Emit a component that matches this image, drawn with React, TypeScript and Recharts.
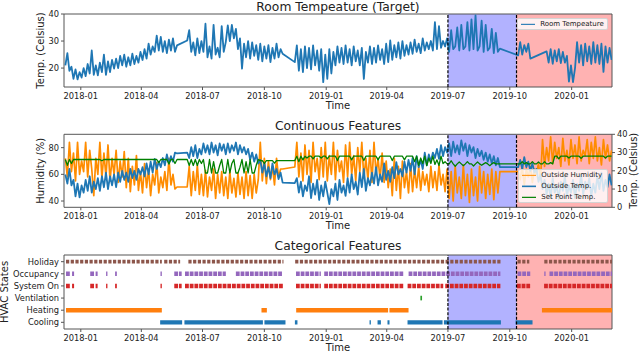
import { LineChart, Line, XAxis, YAxis, ReferenceArea, ReferenceLine } from 'recharts';

const FONT = '"DejaVu Sans", Verdana, sans-serif';
const INK = '#222';
const SPINE = '#555';

// time axis, in days since 2018-01-01
const tickDays = [0, 90, 181, 273, 365, 455, 546, 638, 730];
const tickLabels = ['2018-01', '2018-04', '2018-07', '2018-10', '2019-01', '2019-04', '2019-07', '2019-10', '2020-01'];
const dayDomain = [-25, 790];
const validStart = 546; // 2019-07-01
const testStart = 648; // 2019-10-10

// readings sampled every ~3 days (null = no data, line bridges the gap)
const sampleStart = -23;
const sampleStep = 3.02;

const roomTemp = [
  21, 25.5, 19, 20.5, 16, 19.5, 15.8, 18.5, 16.5, 20,
  17, 21.5, 18, 26.5, 17.5, 21, 17.3, 22, 18.5, 25,
  17.5, 22.5, 18.5, 23, 19.8, 23.5, 20, 24.5, 21, 25,
  20.5, 24, 21, 25.3, 21.5, 24.5, 22, 26, 23, 27,
  23.5, 29, 25, 28, 26, 32, 26.5, 31.5, 26, 30,
  25.5, 30.5, 26.5, 31, 26, 28.4, null, null, null, null,
  30.2, 34, 26, 29.5, 24.7, 31, 25.5, 30, 26, 36.4,
  24, 28, 23.5, 36, 25, 27.5, 24, 35.5, 26, 29.6,
  35.8, 30, 36, 31, 34.5, 27, 31, 19.8, 29, 24,
  30, 23.5, 29.5, 24.5, 28.5, 23, 29, 22.5, 28, 23.5,
  28.5, 22.2, 27.5, 23.5, 29, 24, 27, 25.3, null, null,
  null, null, null, 22.2, 28.4, 19, 27, 18.5, 28, 20,
  27.5, 19.5, 28.4, 21, 26.5, 19, 27, 14.8, 25, 16,
  27, 18, 26, 21, 28, 22, 27.5, 21.5, 28.4, 22,
  27, 21, 28, 22.5, 26.5, 21, 27.5, 16, 26, 22,
  28, 21.5, 27.5, 22, 28.4, 23, 27, 21.5, 29, 22.2,
  30.2, 23, 28.5, 24, 29.5, 23.5, 30, 24.5, 28.5, 25,
  29.5, 25.3, 30.5, 26, 29, 25.5, 31, 26.5, 29.5, 27,
  30, 26.5, 37, 27, 35.5, 27.5, 30, 28, 31, 26,
  34, 27, 28, 35, 26.5, 36, 27, 28, 37, 26.5,
  38, 27, 39.5, 26.5, 28, 37.5, 26, 36, 26.5, 27.5,
  34.5, 25.5, 33, 26, 27.2, null, null, null, null, null,
  null, null, null, 24.7, 29.6, 25, 28.5, 26, 29, 23.5,
  null, null, null, null, null, null, null, 26.2, 22, 27,
  21.6, 26.5, 22.5, 27, 21.8, 26, 22, 24.5, 15, 21,
  14.8, 20, 29.6, 22, 28.5, 21, 29, 22.5, 28, 21.5,
  29.6, 22, 28.5, 21.5, 29, 18.6, 28, 22, 27.5, 23,
];

const outsideHumidity = [
  72, 58, 84, 62, 76, 55, 84, 60, 70, 62,
  84, 58, 78, 64, 44, 72, 60, 84, 57, 76,
  58, 82, 55, 72, 60, 78, 54, 70, 58, 77,
  50, 72, 47, 66, 52, 74, 48, 62, 46, 68,
  50, 64, 44, 60, 52, 69, 46, 58, 50, 62,
  48, 72, 52, 60, 49, 50.5, null, null, null, null,
  50.5, 66, 44, 62, 48, 67, 45, 60, 44, 63,
  43, 58, 48, 64, 42, 60, 46, 62, 44, 58,
  42, 62, 46, 57, 43, 61, 45, 58, 42, 62,
  44, 59, 42, 60, 46, 56, 84, 55, 72, 53,
  70, 56, 66, 52, 72, 58, 64, 64, null, null,
  null, null, null, 65.5, 84, 58, 76, 55, 82, 60,
  78, 54, 84, 62, 72, 56, 80, 58, 84, 55,
  74, 60, 84, 56, 78, 62, 70, 54, 82, 58,
  84, 60, 74, 55, 80, 62, 84, 57, 72, 56,
  78, 54, 84, 60, 72, 56, 76, 54, 70, 50,
  64, 44, 72, 48, 66, 42, 70, 50, 62, 46,
  68, 47, 64, 50, 66, 48, 62, 52, 60, 47,
  66, 50, 62, 48, 67, 52, 60, 47, 64, 42,
  62, 40, 66, 46, 58, 42, 67, 44, 60, 39,
  64, 44, 58, 40, 66, 46, 62, 42, 60, 45,
  64, 41, 62, 46, 62, null, null, null, null, null,
  null, null, null, 62, 56, 66, 52, 64, 58, 66,
  54, 64, 60, 68, 56, 86, 66, 80, 70, 88,
  68, 84, 72, 80, 66, 87, 70, 78, 67, 86,
  72, 82, 68, 88, 70, 78, 74, 86, 68, 84,
  72, 88, 70, 80, 67, 86, 72, 82, 70, 78,
];

const outsideTemp = [
  18, 13, 21, 12, 15, 6, 13, 5.5, 12, 8,
  15, 9, 17, 8, 14, 10, 16, 9, 17, 11,
  19, 10, 17, 12, 18, 11, 19, 14, 20, 15,
  19, 14, 21, 16, 20, 15, 21, 18, 22, 17,
  24, 18, 25, 19, 26.5, 21, 25, 22, 27, 23,
  29, 24, 28, 25, 30, 29.5, null, null, null, null,
  30, 27, 33, 28, 34, 27, 32, 29, 35, 30,
  34, 29, 35.5, 30, 34, 28.5, 35, 31, 34.5, 29,
  35, 30, 34, 31, 35.5, 29, 34, 30, 33, 29,
  32, 26, 30, 25, 29, 24, 26, 19, 24, 17,
  22, 16, 24, 18, 21, 15.5, 19, 13.5, null, null,
  null, null, null, 13.3, 16, 8, 14, 6, 12, 9,
  17, 5, 13, 7, 15, 4, 12, 6, 14, 8,
  1.7, 10, 6, 13, 4, 15, 8, 12, 6.3, 16,
  8, 18, 10, 14, 7, 19, 11, 21, 9, 16,
  12, 19, 13, 22, 12, 18, 14, 24, 15, 20,
  14, 22, 16, 24.7, 18, 21, 17, 25, 19, 26,
  20, 27, 18, 28, 22, 26, 21, 30, 23, 29,
  25, 30, 27, 32, 26.5, 34, 28, 33, 30, 35,
  28, 36, 30, 34, 29, 36.7, 31, 35, 28, 34,
  30, 33, 27, 32, 28, 31, 26, 30, 25, 29,
  24, 28, 23, 27, 22, null, null, null, null, null,
  null, null, null, 22, 26, 21, 27.5, 22, 25, 20,
  24, 19, 21, 14, 18, 10, 15, 7, 13, 5,
  16, 8, 12, 4.4, 14, 9, 17, 6, 12, 8,
  15, 5, 13, 9, 18, 7, 14, 10, 16, 6,
  13, 8, 17, 10, 19, 9, 15, 11, 18, 12,
];

const setPointTemp = [
  26.2, 23, 26.2, 24, 26.2, 26.2, 26.2, 26.2, 26.2, 26.2,
  26.2, 26.2, 26.2, 26.2, 26.2, 26.2, 26.2, 26.2, 25.5, 26.2,
  26.2, 26.2, 26.2, 26.2, 26.2, 26.2, 26.2, 26.2, 26.2, 26.2,
  26.2, 26.2, 26.2, 26.2, 26.2, 26.2, 26.2, 26.2, 26.2, 26.2,
  26.2, 26.2, 26.2, 26.2, 26.2, 26.2, 24.5, 26.2, 26.2, 26.2,
  26.2, 23.8, 26.2, 26.2, 24, 26.2, null, null, null, null,
  26.2, 22.9, 26.2, 22.9, 26.2, 22.9, 26.2, 24, 26.2, 18.8,
  18.8, 26.2, 18.8, 25, 18.8, 18.8, 22.9, 26.2, 18.8, 18.8,
  26.2, 18.8, 24, 26.2, 18.8, 18.8, 22, 26.2, 18.8, 25,
  18.8, 26.2, 18.8, 18.8, 23, 26.2, 25.6, 25.6, 24, 25.6,
  25.6, 25.6, 25.6, 24.2, 25.6, 25.6, 25.6, 25.6, null, null,
  null, null, null, 25.6, 28, 25, 28, 26, 28, 27,
  28, 28, 26.5, 28, 28, 28, 27, 28, 28, 26.5,
  28, 28, 28, 28, 25.6, 28, 28, 28, 28, 28,
  28, 26, 28, 28, 28, 28, 28, 25.6, 28, 28,
  28, 28, 28, 28, 26, 28, 28, 28, 28, 28,
  28, 25.6, 28, 28, 28, 28, 28, 26, 28, 28,
  28, 28, 25, 28, 23, 27, 24, 28, 22.9, 27,
  24, 28, 23.5, 26, 22.9, 28, 24, 25, 23.8, 23.8,
  25.5, 23.8, 22.5, 23.8, 24.8, 23.8, 22.8, 23.8, 25, 23.8,
  23.8, 22.6, 23.8, 24.8, 23.8, 23, 23.8, 24.5, 23.8, 22.8,
  23.8, 24.5, 23.8, 23.8, 23.8, null, null, null, null, null,
  null, null, null, 23.8, 23.8, 25, 23.8, 24.5, 23.8, 23.8,
  25, 23.8, 23.8, 24.8, 23.8, 23.8, 25, 23.8, 23.8, 24.5,
  23.8, 28, 28, 26.5, 28, 28, 28, 28, 27, 28,
  28, 28, 28, 28, 26.8, 28, 28, 28, 28, 28,
  28, 28, 28, 28, 28, 28, 27, 28, 28, 28,
];

// HVAC states, bottom to top, and the day spans where each is on
const stateNames = ['Cooling', 'Heating', 'Ventilation', 'System On', 'Occupancy', 'Holiday'];
const coolingOn = [[118, 150.7], [154.1, 270.8], [273.1, 304.4], [318.4, 322.2], [429.4, 431.4], [441.3, 446.3], [456.1, 459.1], [485.9, 538], [540, 624.8], [646.6, 671.8]];
const heatingOn = [[-22, 120.5], [268.7, 276.7], [320.3, 457], [459, 487.4], [685.8, 790]];
const ventilationOn = [[505, 507.5]];
const systemOn = [[-22, -16], [-13, -10], [14, 20], [22, 25], [37.6, 39.6], [51, 53.6], [118.5, 120.5], [139, 150], [155, 301], [320, 357], [362, 480], [486, 539], [542, 624], [648.6, 668.4], [689, 790]];
const occupancyOn = [[-22, -16], [-13, -10], [14, 20], [22, 25], [37.6, 39.6], [51, 53.6], [118.5, 120.5], [139, 150], [155, 215.7], [230.6, 300.5], [320, 357], [362, 480], [487.5, 624], [649.5, 668.4], [689.3, 691.2], [697, 790]];
const holidayOn = [[-22, 120.5], [124, 147.7], [160, 301.4], [318.8, 624.8], [649.5, 667], [689.3, 790]];

const rows = roomTemp.map((room, i) => ({
  x: sampleStart + i * sampleStep,
  room,
  humidity: outsideHumidity[i],
  outTemp: outsideTemp[i],
  setPoint: setPointTemp[i],
}));

const toSegments = (spans: number[][], level: number) =>
  spans.flatMap(([a, b]) => [
    { x: a, y: level },
    { x: b, y: level },
    { x: b, y: null },
  ]);

const fmtDay = (d: number) => tickLabels[tickDays.indexOf(d)] ?? '';

const tickStyle = { fontSize: 8.3, fill: INK };

const timeAxis = {
  dataKey: 'x',
  type: 'number' as const,
  domain: dayDomain,
  allowDataOverflow: true,
  ticks: tickDays,
  interval: 0 as const,
  tickFormatter: fmtDay,
  height: 25,
  tickSize: 3,
  tickMargin: 3,
  axisLine: false,
  tickLine: { stroke: SPINE },
  tick: tickStyle,
  label: { value: 'Time', position: 'insideBottom' as const, offset: 3, fontSize: 10, fill: INK },
};

const sideLabel = (text: string, cx: number, cy: number) => ({
  content: () => (
    <text
      x={cx}
      y={cy}
      transform={`rotate(-90 ${cx} ${cy})`}
      textAnchor="middle"
      dominantBaseline="central"
      fontSize={10}
      fill={INK}
    >
      {text}
    </text>
  ),
});

// plain text tick so "System On" stays on one line
const StateTick = ({ x, y, payload }: any) => (
  <text x={x} y={y} textAnchor="end" dominantBaseline="central" fontSize={8.3} fill={INK}>
    {stateNames[payload.value]}
  </text>
);

function Title({ text, top }: { text: string; top: number }) {
  return (
    <div
      style={{
        position: 'absolute',
        left: 138,
        top,
        width: 400,
        textAlign: 'center',
        fontSize: 12.3,
        lineHeight: '13px',
        color: INK,
      }}
    >
      {text}
    </div>
  );
}

function LegendBox({ left, top, width, items }: { left: number; top: number; width: number; items: { label: string; color: string; w: number }[] }) {
  return (
    <div
      style={{
        position: 'absolute',
        left,
        top,
        width,
        boxSizing: 'border-box',
        padding: '0 3px',
        background: 'rgba(255,255,255,0.8)',
        border: '1px solid #d3d3d3',
        borderRadius: 2,
        fontSize: 7,
        lineHeight: '10.7px',
        color: INK,
      }}
    >
      {items.map((it) => (
        <div key={it.label} style={{ display: 'flex', alignItems: 'center', whiteSpace: 'nowrap', height: 10.7 }}>
          <svg width={19.5} height={10.7} style={{ flex: 'none' }}>
            <line x1={0} x2={14} y1={5.35} y2={5.35} stroke={it.color} strokeWidth={it.w} />
          </svg>
          <span>{it.label}</span>
        </div>
      ))}
    </div>
  );
}

const noisy = { type: 'linear' as const, dot: false, connectNulls: true, isAnimationActive: false, strokeLinejoin: 'round' as const };

function App() {
  return (
    <div
      style={{
        position: 'absolute',
        left: 0,
        top: 0,
        width: 640,
        height: 352,
        overflow: 'hidden',
        background: '#fff',
        fontFamily: FONT,
      }}
    >
      {/* Room temperature */}
      <div style={{ position: 'absolute', left: 0, top: 0 }}>
        <LineChart width={640} height={112} data={rows} margin={{ top: 14, right: 28, bottom: 0, left: 0 }}>
          <XAxis {...timeAxis} />
          <YAxis
            type="number"
            domain={[13, 40]}
            allowDataOverflow
            ticks={[20, 30, 40]}
            width={64}
            tickSize={3}
            tickMargin={2}
            axisLine={false}
            tickLine={{ stroke: SPINE }}
            tick={tickStyle}
            label={sideLabel('Temp. (Celsius)', 40.5, 50.5)}
          />
          <ReferenceArea x1={validStart} x2={testStart} fill="#0000ff" fillOpacity={0.3} stroke="none" />
          <ReferenceArea x1={testStart} x2={dayDomain[1]} fill="#ff0000" fillOpacity={0.3} stroke="none" />
          <Line dataKey="room" stroke="#1f77b4" strokeWidth={1.8} {...noisy} />
          <ReferenceLine x={validStart} stroke="#000" strokeDasharray="3 1.6" strokeWidth={1.2} />
          <ReferenceLine x={testStart} stroke="#000" strokeDasharray="3 1.6" strokeWidth={1.2} />
          <ReferenceArea x1={dayDomain[0]} x2={dayDomain[1]} y1={13} y2={40} fill="none" stroke={SPINE} strokeWidth={1} />
        </LineChart>
      </div>

      {/* Continuous features */}
      <div style={{ position: 'absolute', left: 0, top: 120 }}>
        <LineChart width={640} height={112.3} data={rows} margin={{ top: 14.3, right: 0, bottom: 0, left: 0 }}>
          <XAxis {...timeAxis} />
          <YAxis
            yAxisId="left"
            type="number"
            domain={[35.3, 90]}
            allowDataOverflow
            ticks={[40, 60, 80]}
            width={64}
            tickSize={3}
            tickMargin={2}
            axisLine={false}
            tickLine={{ stroke: SPINE }}
            tick={tickStyle}
            label={sideLabel('Humidity (%)', 40.5, 50.8)}
          />
          <YAxis
            yAxisId="right"
            orientation="right"
            type="number"
            domain={[0, 40]}
            allowDataOverflow
            ticks={[0, 10, 20, 30, 40]}
            width={28}
            tickSize={3}
            tickMargin={2}
            axisLine={false}
            tickLine={{ stroke: SPINE }}
            tick={tickStyle}
            label={sideLabel('Temp. (Celsius)', 634, 50.8)}
          />
          <ReferenceArea yAxisId="left" x1={validStart} x2={testStart} fill="#0000ff" fillOpacity={0.3} stroke="none" />
          <ReferenceArea yAxisId="left" x1={testStart} x2={dayDomain[1]} fill="#ff0000" fillOpacity={0.3} stroke="none" />
          <Line yAxisId="left" dataKey="humidity" stroke="#ff8c00" strokeWidth={1.7} {...noisy} />
          <Line yAxisId="right" dataKey="outTemp" stroke="#1f77b4" strokeWidth={1.8} {...noisy} />
          <Line yAxisId="right" dataKey="setPoint" stroke="#008000" strokeWidth={1.3} {...noisy} />
          <ReferenceLine yAxisId="left" x={validStart} stroke="#000" strokeDasharray="3 1.6" strokeWidth={1.2} />
          <ReferenceLine yAxisId="left" x={testStart} stroke="#000" strokeDasharray="3 1.6" strokeWidth={1.2} />
          <ReferenceArea yAxisId="left" x1={dayDomain[0]} x2={dayDomain[1]} y1={35.3} y2={90} fill="none" stroke={SPINE} strokeWidth={1} />
        </LineChart>
      </div>

      {/* Categorical features */}
      <div style={{ position: 'absolute', left: 0, top: 241 }}>
        <LineChart width={640} height={113} margin={{ top: 14, right: 28, bottom: 0, left: 0 }}>
          <XAxis {...timeAxis} />
          <YAxis
            type="number"
            domain={[-0.55, 5.55]}
            allowDataOverflow
            ticks={[0, 1, 2, 3, 4, 5]}
            interval={0}
            width={64}
            tickSize={3}
            tickMargin={2}
            axisLine={false}
            tickLine={{ stroke: SPINE }}
            tick={<StateTick />}
            label={sideLabel('HVAC States', 4.7, 51)}
          />
          <ReferenceArea x1={validStart} x2={testStart} fill="#0000ff" fillOpacity={0.3} stroke="none" />
          <ReferenceArea x1={testStart} x2={dayDomain[1]} fill="#ff0000" fillOpacity={0.3} stroke="none" />
          <Line data={toSegments(holidayOn, 5)} dataKey="y" type="linear" stroke="#8c564b" strokeWidth={3.6} strokeDasharray="3.2 1.5" dot={false} isAnimationActive={false} />
          <Line data={toSegments(occupancyOn, 4)} dataKey="y" type="linear" stroke="#9467bd" strokeWidth={4.6} strokeDasharray="3.8 0.9" dot={false} isAnimationActive={false} />
          <Line data={toSegments(systemOn, 3)} dataKey="y" type="linear" stroke="#d62728" strokeWidth={4.6} strokeDasharray="3.8 0.9" dot={false} isAnimationActive={false} />
          <Line data={toSegments(ventilationOn, 2)} dataKey="y" type="linear" stroke="#2ca02c" strokeWidth={4.6} dot={false} isAnimationActive={false} />
          <Line data={toSegments(heatingOn, 1)} dataKey="y" type="linear" stroke="#ff7f0e" strokeWidth={4.6} dot={false} isAnimationActive={false} />
          <Line data={toSegments(coolingOn, 0)} dataKey="y" type="linear" stroke="#1f77b4" strokeWidth={4.4} dot={false} isAnimationActive={false} />
          <ReferenceLine x={validStart} stroke="#000" strokeDasharray="3 1.6" strokeWidth={1.2} />
          <ReferenceLine x={testStart} stroke="#000" strokeDasharray="3 1.6" strokeWidth={1.2} />
          <ReferenceArea x1={dayDomain[0]} x2={dayDomain[1]} y1={-0.55} y2={5.55} fill="none" stroke={SPINE} strokeWidth={1} />
        </LineChart>
      </div>

      <Title text="Room Tempeature (Target)" top={0.5} />
      <Title text="Continuous Features" top={120} />
      <Title text="Categorical Features" top={240.3} />

      <LegendBox left={516.7} top={17.7} width={91.6} items={[{ label: 'Room Tempeature', color: '#1f77b4', w: 1.1 }]} />
      <LegendBox
        left={517.7}
        top={169.3}
        width={90.6}
        items={[
          { label: 'Outside Humidity', color: '#ff8c00', w: 1 },
          { label: 'Outside Temp.', color: '#1f77b4', w: 1.6 },
          { label: 'Set Point Temp.', color: '#008000', w: 1.2 },
        ]}
      />
    </div>
  );
}

export default App;
